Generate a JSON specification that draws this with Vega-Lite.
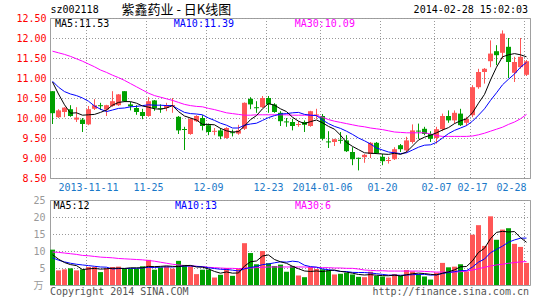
{
  "$schema": "https://vega.github.io/schema/vega-lite/v6.json",
  "background": "white",
  "padding": {"left": 15, "top": 3, "right": 15, "bottom": 2},
  "bounds": "flush",
  "spacing": 22,
  "config": {
    "view": {"stroke": "#a0a0a0", "strokeWidth": 1},
    "font": "DejaVu Sans Mono",
    "axis": {"labelFont": "DejaVu Sans Mono", "labelFontSize": 10, "ticks": false, "domain": false, "gridColor": "#999999", "gridDash": [1, 2], "gridDashOffset": 0.5, "gridWidth": 1, "gridOpacity": 1, "labelOverlap": false}
  },
  "datasets": {
    "k": [
      {"d":"2013-11-01","o":10.67,"h":10.67,"l":9.85,"c":10.12,"v":10.4,"a5":10.90,"a10":10.92,"a30":11.67,"b5":8.9,"b10":8.0,"b30":9.7},
      {"d":"2013-11-04","o":10.02,"h":10.22,"l":10.00,"c":10.19,"v":4.3,"a5":10.60,"a10":10.77,"a30":11.63,"b5":7.6,"b10":7.3,"b30":9.6},
      {"d":"2013-11-05","o":10.15,"h":10.27,"l":10.02,"c":10.26,"v":4.6,"a5":10.33,"a10":10.66,"a30":11.59,"b5":6.6,"b10":6.8,"b30":9.4},
      {"d":"2013-11-06","o":10.22,"h":10.32,"l":10.03,"c":10.05,"v":4.9,"a5":10.12,"a10":10.60,"a30":11.54,"b5":6.0,"b10":6.4,"b30":9.2},
      {"d":"2013-11-07","o":9.96,"h":10.27,"l":9.90,"c":10.01,"v":4.3,"a5":10.13,"a10":10.56,"a30":11.48,"b5":5.7,"b10":6.1,"b30":9.0},
      {"d":"2013-11-08","o":9.96,"h":10.00,"l":9.65,"c":9.85,"v":4.6,"a5":10.07,"a10":10.50,"a30":11.42,"b5":4.54,"b10":5.9,"b30":8.7},
      {"d":"2013-11-11","o":9.84,"h":10.30,"l":9.82,"c":10.22,"v":5.3,"a5":10.08,"a10":10.42,"a30":11.35,"b5":4.74,"b10":5.7,"b30":8.6},
      {"d":"2013-11-12","o":10.23,"h":10.47,"l":10.20,"c":10.32,"v":5.3,"a5":10.09,"a10":10.30,"a30":11.28,"b5":4.88,"b10":5.5,"b30":8.4},
      {"d":"2013-11-13","o":10.32,"h":10.38,"l":10.20,"c":10.295,"v":3.8,"a5":10.14,"a10":10.22,"a30":11.20,"b5":4.66,"b10":5.3,"b30":8.2},
      {"d":"2013-11-14","o":10.21,"h":10.33,"l":10.05,"c":10.32,"v":4.9,"a5":10.20,"a10":10.16,"a30":11.14,"b5":4.78,"b10":5.24,"b30":8.1},
      {"d":"2013-11-15","o":10.30,"h":10.67,"l":10.28,"c":10.42,"v":5.3,"a5":10.32,"a10":10.20,"a30":11.07,"b5":4.92,"b10":4.73,"b30":8.0},
      {"d":"2013-11-18","o":10.32,"h":10.60,"l":10.30,"c":10.59,"v":5.4,"a5":10.39,"a10":10.24,"a30":11.01,"b5":4.94,"b10":4.84,"b30":7.8},
      {"d":"2013-11-19","o":10.67,"h":10.67,"l":10.40,"c":10.42,"v":4.9,"a5":10.41,"a10":10.25,"a30":10.94,"b5":4.86,"b10":4.87,"b30":7.7},
      {"d":"2013-11-20","o":10.34,"h":10.40,"l":10.19,"c":10.29,"v":4.8,"a5":10.41,"a10":10.28,"a30":10.86,"b5":5.06,"b10":4.86,"b30":7.6},
      {"d":"2013-11-21","o":10.25,"h":10.32,"l":10.08,"c":10.15,"v":4.8,"a5":10.37,"a10":10.29,"a30":10.78,"b5":5.04,"b10":4.91,"b30":7.5},
      {"d":"2013-11-22","o":10.15,"h":10.23,"l":9.97,"c":10.05,"v":5.5,"a5":10.30,"a10":10.31,"a30":10.70,"b5":5.08,"b10":5.0,"b30":7.4},
      {"d":"2013-11-25","o":10.05,"h":10.52,"l":10.03,"c":10.42,"v":7.4,"a5":10.27,"a10":10.33,"a30":10.62,"b5":5.48,"b10":5.21,"b30":7.2},
      {"d":"2013-11-26","o":10.44,"h":10.45,"l":10.18,"c":10.25,"v":4.5,"a5":10.23,"a10":10.32,"a30":10.56,"b5":5.4,"b10":5.13,"b30":7.0},
      {"d":"2013-11-27","o":10.245,"h":10.34,"l":10.13,"c":10.22,"v":5.2,"a5":10.22,"a10":10.32,"a30":10.52,"b5":5.48,"b10":5.27,"b30":6.7},
      {"d":"2013-11-28","o":10.25,"h":10.38,"l":10.17,"c":10.32,"v":5.5,"a5":10.25,"a10":10.31,"a30":10.48,"b5":5.62,"b10":5.33,"b30":6.4},
      {"d":"2013-11-29","o":10.30,"h":10.50,"l":10.13,"c":10.325,"v":4.8,"a5":10.31,"a10":10.31,"a30":10.44,"b5":5.48,"b10":5.28,"b30":6.1},
      {"d":"2013-12-02","o":10.03,"h":10.05,"l":9.60,"c":9.69,"v":7.1,"a5":10.16,"a10":10.22,"a30":10.39,"b5":5.42,"b10":5.45,"b30":5.9},
      {"d":"2013-12-03","o":9.725,"h":9.78,"l":9.20,"c":9.70,"v":5.9,"a5":10.05,"a10":10.14,"a30":10.34,"b5":5.7,"b10":5.55,"b30":5.7},
      {"d":"2013-12-04","o":9.60,"h":10.00,"l":9.58,"c":9.98,"v":5.5,"a5":10.00,"a10":10.11,"a30":10.31,"b5":5.76,"b10":5.62,"b30":5.6},
      {"d":"2013-12-05","o":9.92,"h":10.07,"l":9.90,"c":10.05,"v":3.2,"a5":9.95,"a10":10.10,"a30":10.29,"b5":5.3,"b10":5.46,"b30":5.5},
      {"d":"2013-12-06","o":10.00,"h":10.07,"l":9.69,"c":9.80,"v":4.5,"a5":9.84,"a10":10.08,"a30":10.28,"b5":5.24,"b10":5.36,"b30":5.4},
      {"d":"2013-12-09","o":9.82,"h":9.86,"l":9.57,"c":9.65,"v":4.5,"a5":9.84,"a10":10.00,"a30":10.24,"b5":4.72,"b10":5.07,"b30":5.2},
      {"d":"2013-12-10","o":9.655,"h":9.75,"l":9.57,"c":9.68,"v":2.2,"a5":9.83,"a10":9.94,"a30":10.21,"b5":3.98,"b10":4.84,"b30":5.1},
      {"d":"2013-12-11","o":9.69,"h":9.75,"l":9.47,"c":9.54,"v":3.0,"a5":9.74,"a10":9.87,"a30":10.17,"b5":3.48,"b10":4.62,"b30":5.0},
      {"d":"2013-12-12","o":9.50,"h":9.77,"l":9.48,"c":9.75,"v":5.0,"a5":9.68,"a10":9.82,"a30":10.13,"b5":3.84,"b10":4.57,"b30":4.9},
      {"d":"2013-12-13","o":9.645,"h":9.71,"l":9.54,"c":9.62,"v":2.7,"a5":9.65,"a10":9.75,"a30":10.11,"b5":3.48,"b10":4.36,"b30":4.9},
      {"d":"2013-12-16","o":9.61,"h":9.83,"l":9.58,"c":9.69,"v":4.8,"a5":9.66,"a10":9.75,"a30":10.09,"b5":3.54,"b10":4.13,"b30":4.8},
      {"d":"2013-12-17","o":9.73,"h":10.39,"l":9.70,"c":10.38,"v":12.3,"a5":9.80,"a10":9.82,"a30":10.07,"b5":5.56,"b10":4.77,"b30":4.9},
      {"d":"2013-12-18","o":10.48,"h":10.52,"l":10.22,"c":10.34,"v":9.4,"a5":9.96,"a10":9.85,"a30":10.07,"b5":6.84,"b10":5.16,"b30":5.0},
      {"d":"2013-12-19","o":10.27,"h":10.42,"l":10.13,"c":10.245,"v":6.1,"a5":10.06,"a10":9.87,"a30":10.08,"b5":7.06,"b10":5.45,"b30":5.1},
      {"d":"2013-12-20","o":10.27,"h":10.55,"l":10.25,"c":10.50,"v":10.0,"a5":10.23,"a10":9.94,"a30":10.08,"b5":8.52,"b10":6.0,"b30":5.2},
      {"d":"2013-12-23","o":10.50,"h":10.55,"l":10.13,"c":10.34,"v":6.4,"a5":10.36,"a10":10.01,"a30":10.08,"b5":8.84,"b10":6.19,"b30":5.3},
      {"d":"2013-12-24","o":10.34,"h":10.37,"l":10.13,"c":10.15,"v":5.6,"a5":10.32,"a10":10.06,"a30":10.08,"b5":7.5,"b10":6.53,"b30":5.3},
      {"d":"2013-12-25","o":10.13,"h":10.17,"l":9.80,"c":9.92,"v":6.0,"a5":10.23,"a10":10.10,"a30":10.08,"b5":6.82,"b10":6.83,"b30":5.3},
      {"d":"2013-12-26","o":9.915,"h":10.00,"l":9.78,"c":9.89,"v":3.9,"a5":10.16,"a10":10.11,"a30":10.08,"b5":6.38,"b10":6.72,"b30":5.3},
      {"d":"2013-12-27","o":9.90,"h":9.98,"l":9.69,"c":9.80,"v":5.6,"a5":10.02,"a10":10.13,"a30":10.07,"b5":5.5,"b10":7.01,"b30":5.3},
      {"d":"2013-12-30","o":9.825,"h":9.92,"l":9.78,"c":9.85,"v":2.8,"a5":9.92,"a10":10.14,"a30":10.07,"b5":4.78,"b10":6.81,"b30":5.3},
      {"d":"2013-12-31","o":9.90,"h":9.94,"l":9.65,"c":9.83,"v":2.3,"a5":9.86,"a10":10.09,"a30":10.07,"b5":4.12,"b10":5.81,"b30":5.3},
      {"d":"2014-01-02","o":9.80,"h":10.18,"l":9.78,"c":10.17,"v":5.3,"a5":9.91,"a10":10.07,"a30":10.07,"b5":3.98,"b10":5.4,"b30":5.2},
      {"d":"2014-01-03","o":10.065,"h":10.23,"l":9.98,"c":10.09,"v":4.7,"a5":9.95,"a10":10.06,"a30":10.06,"b5":4.14,"b10":5.26,"b30":5.2},
      {"d":"2014-01-06","o":10.05,"h":10.10,"l":9.44,"c":9.48,"v":4.6,"a5":9.88,"a10":9.95,"a30":10.02,"b5":3.94,"b10":4.72,"b30":5.1},
      {"d":"2014-01-07","o":9.415,"h":9.67,"l":9.25,"c":9.39,"v":4.3,"a5":9.79,"a10":9.86,"a30":9.96,"b5":4.24,"b10":4.51,"b30":5.1},
      {"d":"2014-01-08","o":9.40,"h":9.48,"l":9.30,"c":9.47,"v":3.1,"a5":9.72,"a10":9.79,"a30":9.92,"b5":4.4,"b10":4.26,"b30":5.0},
      {"d":"2014-01-09","o":9.455,"h":9.65,"l":9.36,"c":9.43,"v":3.3,"a5":9.57,"a10":9.74,"a30":9.89,"b5":4.0,"b10":3.99,"b30":5.0},
      {"d":"2014-01-10","o":9.44,"h":9.57,"l":9.15,"c":9.17,"v":3.6,"a5":9.39,"a10":9.67,"a30":9.86,"b5":3.78,"b10":3.96,"b30":4.9},
      {"d":"2014-01-13","o":9.15,"h":9.27,"l":8.82,"c":8.97,"v":3.1,"a5":9.29,"a10":9.59,"a30":9.83,"b5":3.48,"b10":3.71,"b30":4.9},
      {"d":"2014-01-14","o":9.005,"h":9.01,"l":8.69,"c":8.98,"v":2.4,"a5":9.21,"a10":9.50,"a30":9.80,"b5":3.1,"b10":3.67,"b30":4.7},
      {"d":"2014-01-15","o":9.02,"h":9.10,"l":8.88,"c":9.08,"v":2.3,"a5":9.13,"a10":9.43,"a30":9.78,"b5":2.94,"b10":3.67,"b30":4.4},
      {"d":"2014-01-16","o":9.10,"h":9.40,"l":9.00,"c":9.38,"v":3.9,"a5":9.12,"a10":9.35,"a30":9.75,"b5":3.06,"b10":3.53,"b30":4.3},
      {"d":"2014-01-17","o":9.38,"h":9.40,"l":9.10,"c":9.12,"v":2.7,"a5":9.11,"a10":9.25,"a30":9.73,"b5":2.88,"b10":3.33,"b30":4.2},
      {"d":"2014-01-20","o":9.03,"h":9.10,"l":8.82,"c":8.92,"v":2.5,"a5":9.10,"a10":9.20,"a30":9.71,"b5":2.76,"b10":3.12,"b30":4.2},
      {"d":"2014-01-21","o":8.925,"h":9.03,"l":8.86,"c":8.95,"v":2.2,"a5":9.09,"a10":9.15,"a30":9.68,"b5":2.72,"b10":2.91,"b30":4.1},
      {"d":"2014-01-22","o":8.97,"h":9.27,"l":8.95,"c":9.22,"v":3.2,"a5":9.12,"a10":9.13,"a30":9.65,"b5":2.9,"b10":2.92,"b30":4.1},
      {"d":"2014-01-23","o":9.32,"h":9.35,"l":9.15,"c":9.22,"v":2.7,"a5":9.09,"a10":9.11,"a30":9.64,"b5":2.66,"b10":2.86,"b30":4.1},
      {"d":"2014-01-24","o":9.19,"h":9.53,"l":9.13,"c":9.44,"v":4.4,"a5":9.15,"a10":9.13,"a30":9.63,"b5":3.0,"b10":2.94,"b30":4.1},
      {"d":"2014-01-27","o":9.40,"h":9.84,"l":9.36,"c":9.69,"v":4.0,"a5":9.30,"a10":9.20,"a30":9.63,"b5":3.3,"b10":3.03,"b30":4.1},
      {"d":"2014-01-28","o":9.685,"h":9.86,"l":9.48,"c":9.66,"v":3.2,"a5":9.45,"a10":9.27,"a30":9.63,"b5":3.5,"b10":3.11,"b30":4.1},
      {"d":"2014-01-29","o":9.73,"h":9.78,"l":9.57,"c":9.60,"v":2.5,"a5":9.52,"a10":9.32,"a30":9.63,"b5":3.36,"b10":3.13,"b30":4.0},
      {"d":"2014-01-30","o":9.60,"h":9.67,"l":9.40,"c":9.48,"v":1.6,"a5":9.57,"a10":9.33,"a30":9.60,"b5":3.14,"b10":2.9,"b30":3.9},
      {"d":"2014-02-07","o":9.50,"h":9.78,"l":9.36,"c":9.72,"v":3.6,"a5":9.63,"a10":9.39,"a30":9.56,"b5":2.98,"b10":2.99,"b30":3.8},
      {"d":"2014-02-10","o":9.72,"h":10.11,"l":9.67,"c":10.05,"v":6.5,"a5":9.70,"a10":9.50,"a30":9.54,"b5":3.48,"b10":3.39,"b30":3.8},
      {"d":"2014-02-11","o":10.05,"h":10.19,"l":9.88,"c":9.94,"v":5.2,"a5":9.76,"a10":9.61,"a30":9.54,"b5":3.88,"b10":3.69,"b30":3.8},
      {"d":"2014-02-12","o":9.94,"h":10.19,"l":9.86,"c":10.13,"v":5.4,"a5":9.86,"a10":9.69,"a30":9.54,"b5":4.46,"b10":3.91,"b30":3.8},
      {"d":"2014-02-13","o":10.11,"h":10.23,"l":9.80,"c":9.82,"v":6.1,"a5":9.93,"a10":9.75,"a30":9.54,"b5":5.36,"b10":4.25,"b30":3.9},
      {"d":"2014-02-14","o":9.88,"h":10.03,"l":9.80,"c":9.98,"v":4.0,"a5":9.98,"a10":9.81,"a30":9.54,"b5":5.44,"b10":4.21,"b30":4.1},
      {"d":"2014-02-17","o":10.07,"h":10.82,"l":10.02,"c":10.77,"v":14.8,"a5":10.13,"a10":9.92,"a30":9.55,"b5":7.1,"b10":5.29,"b30":4.4},
      {"d":"2014-02-18","o":10.77,"h":11.23,"l":10.73,"c":11.15,"v":17.6,"a5":10.37,"a10":10.07,"a30":9.58,"b5":9.58,"b10":6.73,"b30":4.8},
      {"d":"2014-02-19","o":11.15,"h":11.25,"l":10.86,"c":11.23,"v":11.5,"a5":10.59,"a10":10.23,"a30":9.62,"b5":10.8,"b10":7.63,"b30":5.2},
      {"d":"2014-02-20","o":11.42,"h":11.94,"l":11.27,"c":11.61,"v":20.2,"a5":10.95,"a10":10.44,"a30":9.67,"b5":13.62,"b10":9.49,"b30":5.6},
      {"d":"2014-02-21","o":11.67,"h":11.82,"l":11.32,"c":11.57,"v":13.3,"a5":11.27,"a10":10.63,"a30":9.72,"b5":15.48,"b10":10.46,"b30":5.9},
      {"d":"2014-02-24","o":11.63,"h":12.19,"l":11.48,"c":12.11,"v":16.3,"a5":11.53,"a10":10.83,"a30":9.77,"b5":15.78,"b10":11.44,"b30":6.1},
      {"d":"2014-02-25","o":11.78,"h":12.00,"l":11.00,"c":11.40,"v":16.7,"a5":11.58,"a10":10.97,"a30":9.84,"b5":15.6,"b10":12.59,"b30":6.4},
      {"d":"2014-02-26","o":11.13,"h":11.53,"l":10.90,"c":11.40,"v":12.1,"a5":11.61,"a10":11.10,"a30":9.90,"b5":15.72,"b10":13.26,"b30":6.6},
      {"d":"2014-02-27","o":11.27,"h":12.00,"l":11.23,"c":11.53,"v":11.2,"a5":11.58,"a10":11.27,"a30":9.98,"b5":13.92,"b10":13.77,"b30":6.8},
      {"d":"2014-02-28","o":11.08,"h":11.45,"l":11.05,"c":11.42,"v":6.5,"a5":11.53,"a10":11.39,"a30":10.09,"b5":12.56,"b10":13.8,"b30":6.9}
    ]
  },
  "vconcat": [
    {
      "width": 480,
      "height": 160,
      "data": {"name": "k"},
      "encoding": {
        "x": {
          "field": "d", "type": "ordinal",
          "scale": {"type": "band", "paddingInner": 0.1667, "paddingOuter": 0.0833, "align": 0, "round": true},
          "axis": {
            "title": null,
            "values": ["2013-11-11","2013-11-25","2013-12-09","2013-12-23","2014-01-06","2014-01-20","2014-02-07","2014-02-17","2014-02-28"],
            "bandPosition": 0,
            "labelExpr": "datum.value == '2013-11-11' || datum.value == '2014-01-06' ? datum.value : slice(datum.value, 5)",
            "labelColor": "#1a78c8",
            "labelPadding": 4,
            "labelAngle": 0,
            "labelFlush": 10,
            "labelOverlap": false,
            "grid": true,
            "gridColor": "#999999",
            "gridDash": [1, 2],
            "gridDashOffset": 0.5
          }
        }
      },
      "layer": [
        {
          "mark": {"type": "rule", "strokeWidth": 1},
          "encoding": {
            "y": {"field": "l", "type": "quantitative", "scale": {"domain": [8.5, 12.5], "zero": false, "nice": false},
              "axis": {"title": null, "values": [8.5, 9, 9.5, 10, 10.5, 11, 11.5, 12, 12.5], "format": ".2f", "labelColor": "#ff0000", "labelPadding": 4, "labelOverlap": false, "grid": true, "gridColor": "#999999", "gridDash": [1, 2], "gridDashOffset": 0.5}},
            "y2": {"field": "h"},
            "color": {"condition": {"test": "datum.c >= datum.o", "value": "#ff5656"}, "value": "#00a000"}
          }
        },
        {
          "mark": {"type": "bar", "minBandSize": 1},
          "encoding": {
            "y": {"field": "o", "type": "quantitative",
              "axis": {"title": null, "values": [8.5, 9, 9.5, 10, 10.5, 11, 11.5, 12, 12.5], "format": ".2f", "labelColor": "#ff0000", "labelPadding": 4, "labelOverlap": false, "grid": true, "gridColor": "#999999", "gridDash": [1, 2], "gridDashOffset": 0.5}},
            "y2": {"field": "c"},
            "color": {"condition": {"test": "datum.c >= datum.o", "value": "#ff5656"}, "value": "#00a000"}
          }
        },
        {"mark": {"type": "line", "color": "#ff00ff", "strokeWidth": 1}, "encoding": {"y": {"field": "a30", "type": "quantitative",
          "axis": {"title": null, "values": [8.5, 9, 9.5, 10, 10.5, 11, 11.5, 12, 12.5], "format": ".2f", "labelColor": "#ff0000", "labelPadding": 4, "labelOverlap": false, "grid": true, "gridColor": "#999999", "gridDash": [1, 2], "gridDashOffset": 0.5}}}},
        {"mark": {"type": "line", "color": "#0000ff", "strokeWidth": 1}, "encoding": {"y": {"field": "a10", "type": "quantitative",
          "axis": {"title": null, "values": [8.5, 9, 9.5, 10, 10.5, 11, 11.5, 12, 12.5], "format": ".2f", "labelColor": "#ff0000", "labelPadding": 4, "labelOverlap": false, "grid": true, "gridColor": "#999999", "gridDash": [1, 2], "gridDashOffset": 0.5}}}},
        {"mark": {"type": "line", "color": "#000000", "strokeWidth": 1}, "encoding": {"y": {"field": "a5", "type": "quantitative",
          "axis": {"title": null, "values": [8.5, 9, 9.5, 10, 10.5, 11, 11.5, 12, 12.5], "format": ".2f", "labelColor": "#ff0000", "labelPadding": 4, "labelOverlap": false, "grid": true, "gridColor": "#999999", "gridDash": [1, 2], "gridDashOffset": 0.5}}}},
        {
          "transform": [{"filter": "datum.d == '2013-11-01'"}],
          "mark": {"type": "text", "align": "left", "baseline": "middle", "fontSize": 10, "font": "DejaVu Sans Mono", "color": "#000000", "dx": 2.5},
          "encoding": {"y": {"datum": 12.34, "type": "quantitative",
            "axis": {"title": null, "values": [8.5, 9, 9.5, 10, 10.5, 11, 11.5, 12, 12.5], "format": ".2f", "labelColor": "#ff0000", "labelPadding": 4, "labelOverlap": false, "grid": true, "gridColor": "#999999", "gridDash": [1, 2], "gridDashOffset": 0.5}}, "text": {"value": "MA5:11.53"}}
        },
        {
          "transform": [{"filter": "datum.d == '2013-11-29'"}],
          "mark": {"type": "text", "align": "left", "baseline": "middle", "fontSize": 10, "font": "DejaVu Sans Mono", "color": "#0000ff", "dx": 1.3},
          "encoding": {"y": {"datum": 12.34, "type": "quantitative",
            "axis": {"title": null, "values": [8.5, 9, 9.5, 10, 10.5, 11, 11.5, 12, 12.5], "format": ".2f", "labelColor": "#ff0000", "labelPadding": 4, "labelOverlap": false, "grid": true, "gridColor": "#999999", "gridDash": [1, 2], "gridDashOffset": 0.5}}, "text": {"value": "MA10:11.39"}}
        },
        {
          "transform": [{"filter": "datum.d == '2013-12-27'"}],
          "mark": {"type": "text", "align": "left", "baseline": "middle", "fontSize": 10, "font": "DejaVu Sans Mono", "color": "#ff00ff", "dx": 2.2},
          "encoding": {"y": {"datum": 12.34, "type": "quantitative",
            "axis": {"title": null, "values": [8.5, 9, 9.5, 10, 10.5, 11, 11.5, 12, 12.5], "format": ".2f", "labelColor": "#ff0000", "labelPadding": 4, "labelOverlap": false, "grid": true, "gridColor": "#999999", "gridDash": [1, 2], "gridDashOffset": 0.5}}, "text": {"value": "MA30:10.09"}}
        },
        {
          "transform": [{"filter": "datum.d == '2013-11-01'"}],
          "mark": {"type": "text", "align": "left", "baseline": "middle", "fontSize": 10, "font": "DejaVu Sans Mono", "color": "#000000", "dx": -2},
          "encoding": {"y": {"datum": 12.69, "type": "quantitative",
            "axis": {"title": null, "values": [8.5, 9, 9.5, 10, 10.5, 11, 11.5, 12, 12.5], "format": ".2f", "labelColor": "#ff0000", "labelPadding": 4, "labelOverlap": false, "grid": true, "gridColor": "#999999", "gridDash": [1, 2], "gridDashOffset": 0.5}}, "text": {"value": "sz002118"}}
        },
        {
          "transform": [{"filter": "datum.d == '2013-11-18'"}],
          "mark": {"type": "text", "align": "left", "baseline": "middle", "fontSize": 13, "font": "Noto Sans CJK SC", "color": "#000000", "dx": 3},
          "encoding": {"y": {"datum": 12.69, "type": "quantitative",
            "axis": {"title": null, "values": [8.5, 9, 9.5, 10, 10.5, 11, 11.5, 12, 12.5], "format": ".2f", "labelColor": "#ff0000", "labelPadding": 4, "labelOverlap": false, "grid": true, "gridColor": "#999999", "gridDash": [1, 2], "gridDashOffset": 0.5}}, "text": {"value": "紫鑫药业 - 日K线图"}}
        },
        {
          "transform": [{"filter": "datum.d == '2014-02-28'"}],
          "mark": {"type": "text", "align": "right", "baseline": "middle", "fontSize": 10, "font": "DejaVu Sans Mono", "color": "#000000", "dx": 1.5},
          "encoding": {"y": {"datum": 12.69, "type": "quantitative",
            "axis": {"title": null, "values": [8.5, 9, 9.5, 10, 10.5, 11, 11.5, 12, 12.5], "format": ".2f", "labelColor": "#ff0000", "labelPadding": 4, "labelOverlap": false, "grid": true, "gridColor": "#999999", "gridDash": [1, 2], "gridDashOffset": 0.5}}, "text": {"value": "2014-02-28 15:02:03"}}
        }
      ]
    },
    {
      "width": 480,
      "height": 85,
      "data": {"name": "k"},
      "encoding": {
        "x": {
          "field": "d", "type": "ordinal",
          "scale": {"type": "band", "paddingInner": 0.1667, "paddingOuter": 0.0833, "align": 0, "round": true},
          "axis": {
            "title": null,
            "values": ["2013-11-11","2013-11-25","2013-12-09","2013-12-23","2014-01-06","2014-01-20","2014-02-07","2014-02-17","2014-02-28"],
            "bandPosition": 0,
            "labels": false,
            "grid": true,
            "gridColor": "#999999",
            "gridDash": [1, 2],
            "gridDashOffset": 0.5
          }
        }
      },
      "layer": [
        {
          "mark": {"type": "bar"},
          "encoding": {
            "y": {"field": "v", "type": "quantitative", "scale": {"domain": [0, 25], "nice": false},
              "axis": {"title": null, "values": [5, 10, 15, 20, 25], "format": "d", "labelColor": "#999999", "labelPadding": 5, "labelOverlap": false, "grid": true, "gridColor": "#999999", "gridDash": [1, 2], "gridDashOffset": 0.5}},
            "color": {"condition": {"test": "datum.c >= datum.o", "value": "#ff5656"}, "value": "#00a000"}
          }
        },
        {"mark": {"type": "line", "color": "#ff00ff", "strokeWidth": 1}, "encoding": {"y": {"field": "b30", "type": "quantitative",
          "axis": {"title": null, "values": [5, 10, 15, 20, 25], "format": "d", "labelColor": "#999999", "labelPadding": 5, "labelOverlap": false, "grid": true, "gridColor": "#999999", "gridDash": [1, 2], "gridDashOffset": 0.5}}}},
        {"mark": {"type": "line", "color": "#0000ff", "strokeWidth": 1}, "encoding": {"y": {"field": "b10", "type": "quantitative",
          "axis": {"title": null, "values": [5, 10, 15, 20, 25], "format": "d", "labelColor": "#999999", "labelPadding": 5, "labelOverlap": false, "grid": true, "gridColor": "#999999", "gridDash": [1, 2], "gridDashOffset": 0.5}}}},
        {"mark": {"type": "line", "color": "#000000", "strokeWidth": 1}, "encoding": {"y": {"field": "b5", "type": "quantitative",
          "axis": {"title": null, "values": [5, 10, 15, 20, 25], "format": "d", "labelColor": "#999999", "labelPadding": 5, "labelOverlap": false, "grid": true, "gridColor": "#999999", "gridDash": [1, 2], "gridDashOffset": 0.5}}}},
        {
          "transform": [{"filter": "datum.d == '2013-11-01'"}],
          "mark": {"type": "text", "align": "left", "baseline": "middle", "fontSize": 10, "font": "DejaVu Sans Mono", "color": "#000000", "dx": 1},
          "encoding": {"y": {"datum": 23.2, "type": "quantitative",
            "axis": {"title": null, "values": [5, 10, 15, 20, 25], "format": "d", "labelColor": "#999999", "labelPadding": 5, "labelOverlap": false, "grid": true, "gridColor": "#999999", "gridDash": [1, 2], "gridDashOffset": 0.5}}, "text": {"value": "MA5:12"}}
        },
        {
          "transform": [{"filter": "datum.d == '2013-11-29'"}],
          "mark": {"type": "text", "align": "left", "baseline": "middle", "fontSize": 10, "font": "DejaVu Sans Mono", "color": "#0000ff", "dx": 2.5},
          "encoding": {"y": {"datum": 23.2, "type": "quantitative",
            "axis": {"title": null, "values": [5, 10, 15, 20, 25], "format": "d", "labelColor": "#999999", "labelPadding": 5, "labelOverlap": false, "grid": true, "gridColor": "#999999", "gridDash": [1, 2], "gridDashOffset": 0.5}}, "text": {"value": "MA10:13"}}
        },
        {
          "transform": [{"filter": "datum.d == '2013-12-27'"}],
          "mark": {"type": "text", "align": "left", "baseline": "middle", "fontSize": 10, "font": "DejaVu Sans Mono", "color": "#ff00ff", "dx": 2.5},
          "encoding": {"y": {"datum": 23.2, "type": "quantitative",
            "axis": {"title": null, "values": [5, 10, 15, 20, 25], "format": "d", "labelColor": "#999999", "labelPadding": 5, "labelOverlap": false, "grid": true, "gridColor": "#999999", "gridDash": [1, 2], "gridDashOffset": 0.5}}, "text": {"value": "MA30:6"}}
        },
        {
          "transform": [{"filter": "datum.d == '2013-11-01'"}],
          "mark": {"type": "text", "align": "right", "baseline": "middle", "fontSize": 10, "font": "Noto Sans CJK SC", "color": "#999999", "dx": -9},
          "encoding": {"y": {"datum": -0.15, "type": "quantitative",
            "axis": {"title": null, "values": [5, 10, 15, 20, 25], "format": "d", "labelColor": "#999999", "labelPadding": 5, "labelOverlap": false, "grid": true, "gridColor": "#999999", "gridDash": [1, 2], "gridDashOffset": 0.5}}, "text": {"value": "万"}}
        },
        {
          "transform": [{"filter": "datum.d == '2013-11-01'"}],
          "mark": {"type": "text", "align": "left", "baseline": "middle", "fontSize": 10, "font": "DejaVu Sans Mono", "color": "#555555", "dx": -2.5},
          "encoding": {"y": {"datum": -1.97, "type": "quantitative",
            "axis": {"title": null, "values": [5, 10, 15, 20, 25], "format": "d", "labelColor": "#999999", "labelPadding": 5, "labelOverlap": false, "grid": true, "gridColor": "#999999", "gridDash": [1, 2], "gridDashOffset": 0.5}}, "text": {"value": "Copyright 2014 SINA.COM"}}
        },
        {
          "transform": [{"filter": "datum.d == '2014-02-28'"}],
          "mark": {"type": "text", "align": "right", "baseline": "middle", "fontSize": 10, "font": "DejaVu Sans Mono", "color": "#555555", "dx": 2.5},
          "encoding": {"y": {"datum": -1.97, "type": "quantitative",
            "axis": {"title": null, "values": [5, 10, 15, 20, 25], "format": "d", "labelColor": "#999999", "labelPadding": 5, "labelOverlap": false, "grid": true, "gridColor": "#999999", "gridDash": [1, 2], "gridDashOffset": 0.5}}, "text": {"value": "http://finance.sina.com.cn"}}
        }
      ]
    }
  ]
}
